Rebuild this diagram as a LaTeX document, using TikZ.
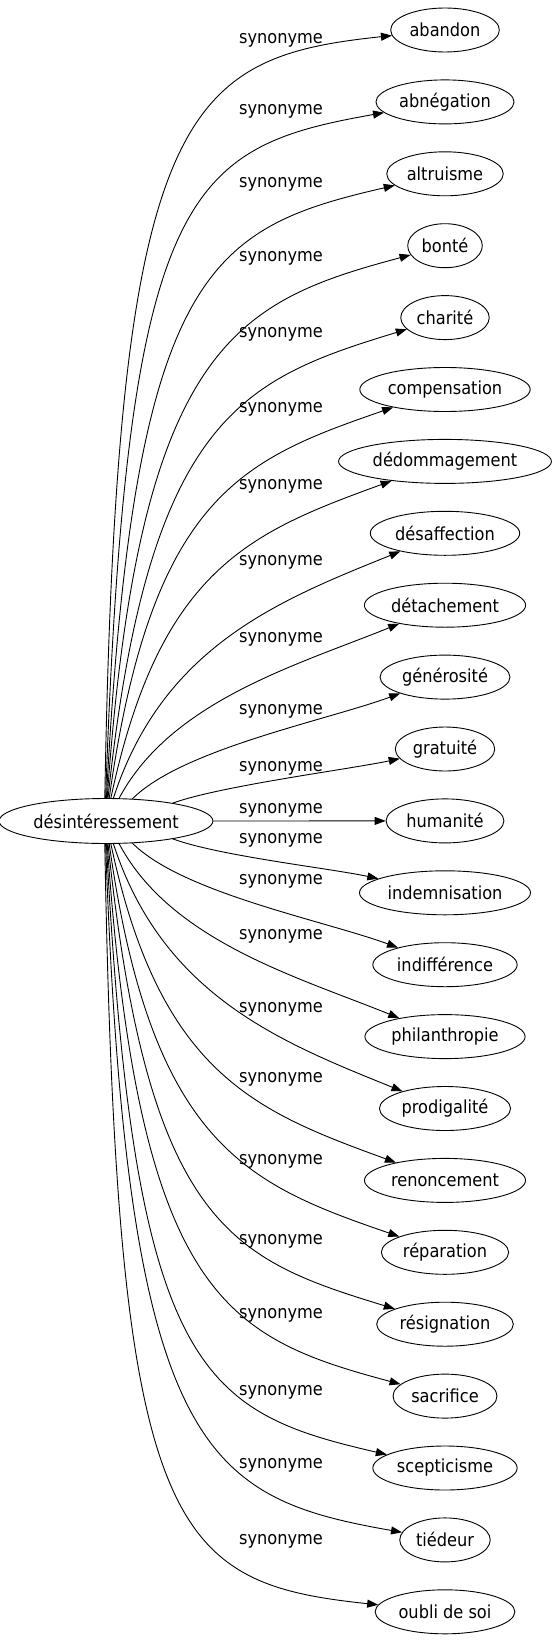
\documentclass[tikz,border=0pt]{standalone}
\usepackage{fontspec}
\setmainfont{DejaVu Sans Condensed}
\usepackage{tikz}
\usetikzlibrary{arrows.meta,shapes.geometric}
\tikzset{
  syn diagram/.style={font=\fontsize{18}{22}\selectfont, line cap=round, line join=round},
  syn word/.style={draw, ellipse, line width=0.9pt, inner xsep=3pt, inner ysep=0pt,
    minimum height=44pt},
  syn head/.style={syn word, minimum width=201pt, minimum height=45pt},
  syn arrow/.style={-{Triangle[length=11pt,width=8pt]}, line width=0.9pt},
  syn label/.style={inner sep=0pt}
}

\begin{document}
\begin{tikzpicture}[syn diagram, x=1pt, y=1pt]
\useasboundingbox (0,0) rectangle (553,-1643);
\node[syn head] (c) at (106,-821) {désintéressement};
\foreach \i/\word/\ly/\sa/\oa/\od/\ia/\id in {
  0/abandon/40/93/89/690/186/210,
  1/abnégation/111/91/88/610/190/200,
  2/altruisme/184/89/87/530/193/190,
  3/bonté/258/87/86/455/195/180,
  4/charité/334/85/84/385/197/170,
  5/compensation/409/82/82/305/199/160,
  6/dédommagement/486/78/78/235/200/150,
  7/désaffection/562/72/72/160/202/130,
  8/détachement/639/60/62/110/202/110,
  9/générosité/711/40/45/70/200/80,
  10/gratuité/768/15/20/50/192/50,
  11/humanité/810/0/0/50/180/50,
  12/indemnisation/840/345/-20/50/168/50,
  13/indifférence/881/320/-45/70/160/80,
  14/philanthropie/936/300/-62/110/158/110,
  15/prodigalité/1009/288/-72/160/158/130,
  16/renoncement/1079/282/-78/235/160/150,
  17/réparation/1161/278/-82/305/161/160,
  18/résignation/1241/275/-84/385/163/170,
  19/sacrifice/1315/273/-86/455/165/180,
  20/scepticisme/1392/271/-87/530/167/190,
  21/tiédeur/1465/269/-88/610/170/200,
  22/oubli de soi/1541/267/-89/690/174/210}{
  \node[syn word] (t\i) at (445,{-30-71.9*\i}) {\word};
  \node[syn label] (l\i) at (281,-\ly) {synonyme};
  \draw[syn arrow] (c.\sa) to[out=\oa, in=\ia, out distance=\od pt, in distance=\id pt] (t\i);
}
\end{tikzpicture}
\end{document}
